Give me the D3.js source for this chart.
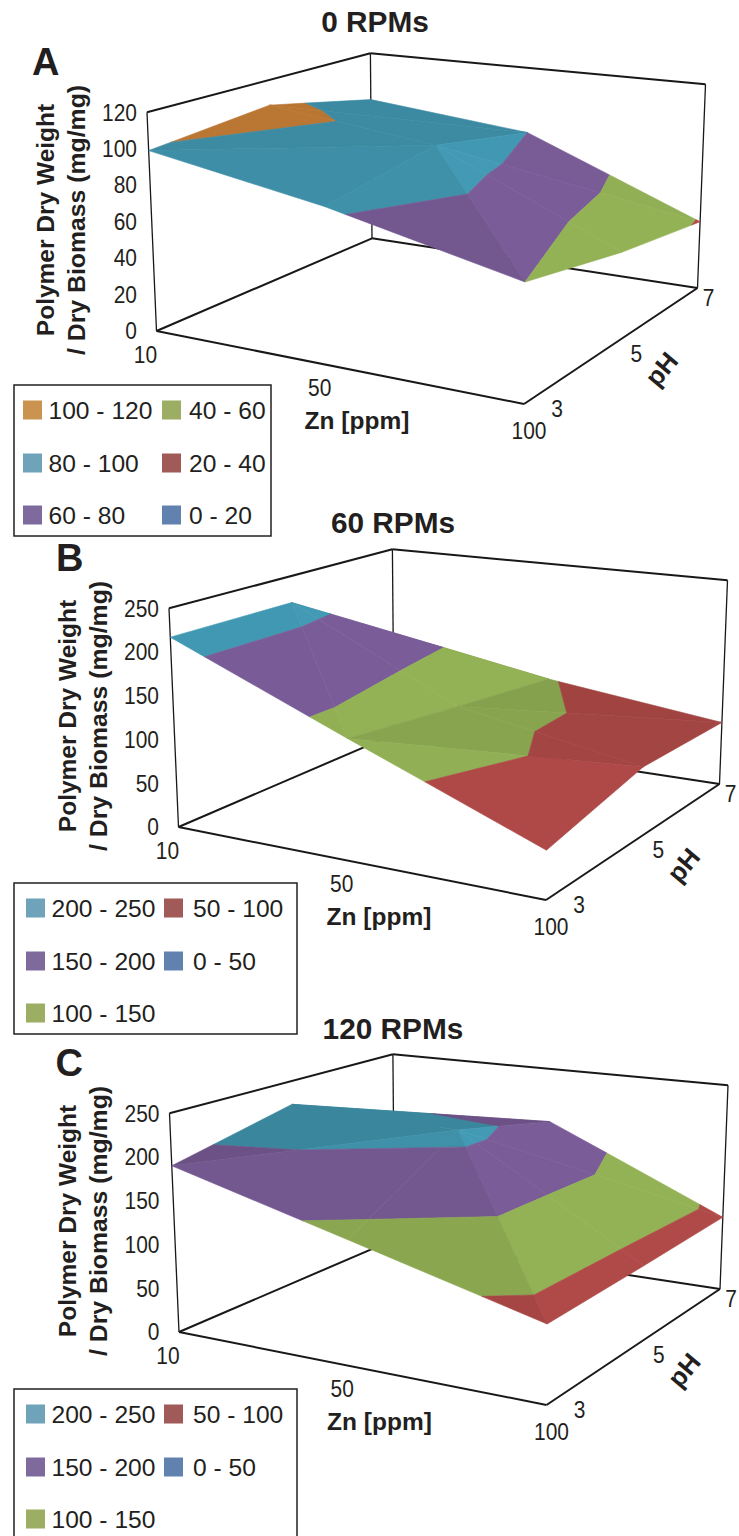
<!DOCTYPE html>
<html>
<head>
<meta charset="utf-8">
<script src="https://cdn.jsdelivr.net/npm/d3@7"></script>
<style>
html, body { margin: 0; padding: 0; background: #fff; overflow: hidden; }
svg { display: block; font-family: "Liberation Sans", Arial, sans-serif; fill: #231f20; }
</style>
</head>
<body>
<div id="chart"></div>
<script>
var zinc = ["10", "50", "100"];
var ph = ["3", "5", "7"];

// rows are pH 3, 5, 7 and columns are Zn 10, 50, 100
var rpm0 = [[99, 82.5, 60], [105, 93, 47.5], [90, 80, 39]];
var rpm60 = [[217, 133, 51], [217, 116.5, 78], [115, 101.5, 75.5]];
var rpm120 = [[190, 137, 83], [221, 213, 85], [150, 182, 88]];

var ticks0 = [0, 20, 40, 60, 80, 100, 120];
var ticks250 = [0, 50, 100, 150, 200, 250];

var bands0 = [[100, 120], [80, 100], [60, 80], [40, 60], [20, 40], [0, 20]];
var bands250 = [[200, 250], [150, 200], [100, 150], [50, 100], [0, 50]];
var bandColors0 = ["#cd8238", "#429ab4", "#7a5d98", "#93b155", "#b04a48", "#5b80b4"];
var bandColors250 = ["#429ab4", "#7a5d98", "#93b155", "#b04a48", "#5b80b4"];
var swatch0 = ["#cb9350", "#6fa3b9", "#7f6a9e", "#9cae64", "#a05a58", "#6181af"];
var swatch250 = ["#6fa3b9", "#7f6a9e", "#9cae64", "#a05a58", "#6181af"];

var svg = d3.select("#chart").append("svg").attr("width", 739).attr("height", 1536);

// box corners of the first panel, the other two are the same box moved
var floorQuad = [[156.5, 331], [524, 404], [697.5, 288], [372, 238.3]];
var topQuad = [[147, 112.3], [526, 160], [705.5, 84.3], [370.4, 53.3]];

// unit square -> quad
function homography(q)
{
	var dx1 = q[1][0] - q[2][0], dx2 = q[3][0] - q[2][0], sx = q[0][0] - q[1][0] + q[2][0] - q[3][0];
	var dy1 = q[1][1] - q[2][1], dy2 = q[3][1] - q[2][1], sy = q[0][1] - q[1][1] + q[2][1] - q[3][1];
	var det = dx1 * dy2 - dx2 * dy1;
	var g = (sx * dy2 - dx2 * sy) / det;
	var h = (dx1 * sy - sx * dy1) / det;
	var a = q[1][0] - q[0][0] + g * q[1][0], b = q[3][0] - q[0][0] + h * q[3][0];
	var d = q[1][1] - q[0][1] + g * q[1][1], e = q[3][1] - q[0][1] + h * q[3][1];
	return function(u, v)
	{
		var w = g * u + h * v + 1;
		return [(a * u + b * v + q[0][0]) / w, (d * u + e * v + q[0][1]) / w];
	};
}

var floorAt = homography(floorQuad);
var topAt = homography(topQuad);

function project(u, v, t)
{
	var p0 = floorAt(u, v), p1 = topAt(u, v);
	return [p0[0] + (p1[0] - p0[0]) * t, p0[1] + (p1[1] - p0[1]) * t];
}

// keep the part of a triangle between two values
function clipAbove(poly, level, sign)
{
	var out = [];
	for(var i = 0; i < poly.length; i++)
	{
		var a = poly[i], b = poly[(i + 1) % poly.length];
		var ina = sign * (a[2] - level) >= 0, inb = sign * (b[2] - level) >= 0;
		if(ina) out.push(a);
		if(ina != inb)
		{
			var t = (level - a[2]) / (b[2] - a[2]);
			out.push([a[0] + (b[0] - a[0]) * t, a[1] + (b[1] - a[1]) * t, level]);
		}
	}
	return out;
}

// each cell is cut along the diagonal with the higher sum
function makeFacets(values, u, v)
{
	var facets = [];
	for(var i = 0; i < ph.length - 1; i++)
	{
		for(var j = 0; j < zinc.length - 1; j++)
		{
			var p00 = [u(zinc[j]), v(ph[i]), values[i][j]];
			var p10 = [u(zinc[j + 1]), v(ph[i]), values[i][j + 1]];
			var p01 = [u(zinc[j]), v(ph[i + 1]), values[i + 1][j]];
			var p11 = [u(zinc[j + 1]), v(ph[i + 1]), values[i + 1][j + 1]];
			if(p00[2] + p11[2] >= p10[2] + p01[2])
			{
				facets.push([p00, p10, p11], [p00, p11, p01]);
			}
			else
			{
				facets.push([p00, p10, p01], [p10, p11, p01]);
			}
		}
	}
	return facets;
}

function shadeOf(f, zMax)
{
	var ax = f[1][0] - f[0][0], ay = f[1][1] - f[0][1], az = (f[1][2] - f[0][2]) / zMax;
	var bx = f[2][0] - f[0][0], by = f[2][1] - f[0][1], bz = (f[2][2] - f[0][2]) / zMax;
	var nx = ay * bz - az * by, ny = az * bx - ax * bz, nz = ax * by - ay * bx;
	if(nz < 0) { nx = -nx; nz = -nz; ny = -ny; }
	var k = nx / Math.sqrt(nx * nx + ny * ny + nz * nz);
	return 0.86 + 0.14 * Math.min(1, Math.max(0, k) / 0.6);
}

function scaleColor(color, f)
{
	var c = d3.rgb(color);
	return d3.rgb(c.r * f, c.g * f, c.b * f).formatHex();
}

// the small labels are taller and narrower than the plain font
function condense(sel, f)
{
	sel.each(function(){
		this.setAttribute("textLength", this.getComputedTextLength() * f);
		this.setAttribute("lengthAdjust", "spacingAndGlyphs");
	});
}

var line = d3.line();

function drawPanel(cfg)
{
	var g = svg.append("g").attr("transform", "translate(" + cfg.dx + "," + cfg.dy + ")");
	var zMax = d3.max(cfg.ticks);
	var u = d3.scalePoint().domain(zinc).range([0, 1]);
	var v = d3.scalePoint().domain(ph).range([0, 1]);
	var z = d3.scaleLinear().domain([0, zMax]).range([0, 1]);

	// box
	var edges = [
		[[0, 0, 1], [0, 1, 1]], [[0, 1, 1], [1, 1, 1]], [[1, 1, 1], [1, 1, 0]],
		[[0, 1, 1], [0, 1, 0]], [[0, 0, 1], [0, 0, 0]], [[0, 0, 0], [1, 0, 0]],
		[[1, 0, 0], [1, 1, 0]], [[0, 0, 0], [0, 1, 0]], [[0, 1, 0], [1, 1, 0]]
	];
	g.selectAll(".edge").data(edges).enter().append("path")
		.attr("class", "edge")
		.attr("d", function(d){ return line(d.map(function(p){ return project(p[0], p[1], p[2]); })); })
		.attr("fill", "none")
		.attr("stroke", "#1a1718")
		.attr("stroke-width", function(d, i){ return (i == 2 || i == 3 || i == 4) ? 1.3 : 2; });

	// surface, far facets first
	var facets = makeFacets(cfg.values, u, v);
	facets.sort(function(a, b){
		return d3.mean(a, function(p){ return floorAt(p[0], p[1])[1]; }) - d3.mean(b, function(p){ return floorAt(p[0], p[1])[1]; });
	});
	facets.forEach(function(f){
		var shade = shadeOf(f, zMax);
		cfg.bands.forEach(function(band, i){
			var poly = clipAbove(clipAbove(f, band[0], 1), band[1], -1);
			if(poly.length < 3) return;
			var color = scaleColor(cfg.colors[i], shade);
			g.append("path")
				.attr("d", line(poly.map(function(p){ return project(p[0], p[1], z(p[2])); })) + "Z")
				.attr("fill", color)
				.attr("stroke", color)
				.attr("stroke-width", 0.6);
		});
	});

	// value ticks
	g.selectAll(".ztick").data(cfg.ticks).enter().append("text")
		.attr("class", "ztick")
		.attr("x", 137)
		.attr("y", function(d){ return project(0, 0, z(d))[1]; })
		.attr("dy", "0.36em")
		.attr("text-anchor", "end")
		.attr("font-size", 23)
		.text(function(d){ return d; })
		.call(condense, 0.91);

	// Zn and pH ticks hang off the floor edges
	var znOffset = [[-11, 24], [-9, 23], [5, 27]];
	var phOffset = [[33, 5], [17, 13], [11, 10]];
	g.selectAll(".xtick").data(zinc).enter().append("text")
		.attr("class", "xtick")
		.attr("x", function(d, i){ return floorAt(u(d), 0)[0] + znOffset[i][0]; })
		.attr("y", function(d, i){ return floorAt(u(d), 0)[1] + znOffset[i][1]; })
		.attr("dy", "0.36em")
		.attr("text-anchor", "middle")
		.attr("font-size", 23)
		.text(function(d){ return d; })
		.call(condense, 0.91);
	g.selectAll(".ytick").data(ph).enter().append("text")
		.attr("class", "ytick")
		.attr("x", function(d, i){ return floorAt(1, v(d))[0] + phOffset[i][0]; })
		.attr("y", function(d, i){ return floorAt(1, v(d))[1] + phOffset[i][1]; })
		.attr("dy", "0.36em")
		.attr("text-anchor", "middle")
		.attr("font-size", 23)
		.text(function(d){ return d; })
		.call(condense, 0.91);

	// axis titles
	g.append("text").attr("transform", "translate(53.5,220) rotate(-90)")
		.attr("text-anchor", "middle").attr("font-size", 24.5).attr("font-weight", "bold")
		.text("Polymer Dry Weight");
	g.append("text").attr("transform", "translate(84.5,220) rotate(-90)")
		.attr("text-anchor", "middle").attr("font-size", 24.8).attr("font-weight", "bold")
		.text("/ Dry Biomass (mg/mg)");
	g.append("text").attr("x", 357).attr("y", 429)
		.attr("text-anchor", "middle").attr("font-size", 24.5).attr("font-weight", "bold")
		.text("Zn [ppm]");
	g.append("text").attr("transform", "translate(668.5,375) rotate(-50)")
		.attr("text-anchor", "middle").attr("font-size", 26).attr("font-weight", "bold")
		.text("pH");

	// panel letter and title
	g.append("text").attr("x", cfg.letterX).attr("y", 75)
		.attr("font-size", 38).attr("font-weight", "bold")
		.text(cfg.letter);
	svg.append("text").attr("x", cfg.titleX).attr("y", cfg.titleY)
		.attr("text-anchor", "middle").attr("font-size", 29.8).attr("font-weight", "bold")
		.text(cfg.title);

	// legend
	var lg = svg.append("g").attr("transform", "translate(14," + cfg.legendY + ")");
	lg.append("rect")
		.attr("width", cfg.legendW).attr("height", 151)
		.attr("fill", "#fff").attr("stroke", "#231f20").attr("stroke-width", 1.5);
	var rows = d3.scaleOrdinal().domain([0, 1, 2]).range([25, 78, 130]);
	var items = lg.selectAll(".item").data(cfg.bands).enter().append("g")
		.attr("class", "item")
		.attr("transform", function(d, i){
			return "translate(" + (i < 3 ? cfg.col1 : cfg.col2) + "," + rows(i % 3) + ")";
		});
	items.append("rect")
		.attr("x", 0).attr("y", -9.5).attr("width", 19).attr("height", 19)
		.attr("fill", function(d, i){ return cfg.swatches[i]; });
	items.append("text")
		.attr("x", function(d, i){ return i < 3 ? 25.5 : cfg.col2Text; }).attr("dy", "0.36em")
		.attr("font-size", 24.6)
		.text(function(d){ return d[0] + " - " + d[1]; });
}

drawPanel({ dx: 0, dy: 0, values: rpm0, ticks: ticks0, bands: bands0, colors: bandColors0, swatches: swatch0,
	letter: "A", letterX: 32, title: "0 RPMs", titleX: 375, titleY: 32,
	legendY: 385, legendW: 257, col1: 9, col2: 148, col2Text: 27 });
drawPanel({ dx: 22, dy: 496, values: rpm60, ticks: ticks250, bands: bands250, colors: bandColors250, swatches: swatch250,
	letter: "B", letterX: 34, title: "60 RPMs", titleX: 393, titleY: 533,
	legendY: 883, legendW: 283, col1: 12, col2: 150, col2Text: 29 });
drawPanel({ dx: 22.5, dy: 1001, values: rpm120, ticks: ticks250, bands: bands250, colors: bandColors250, swatches: swatch250,
	letter: "C", letterX: 33, title: "120 RPMs", titleX: 393, titleY: 1039,
	legendY: 1389, legendW: 283, col1: 12, col2: 150, col2Text: 29 });
</script>
</body>
</html>
